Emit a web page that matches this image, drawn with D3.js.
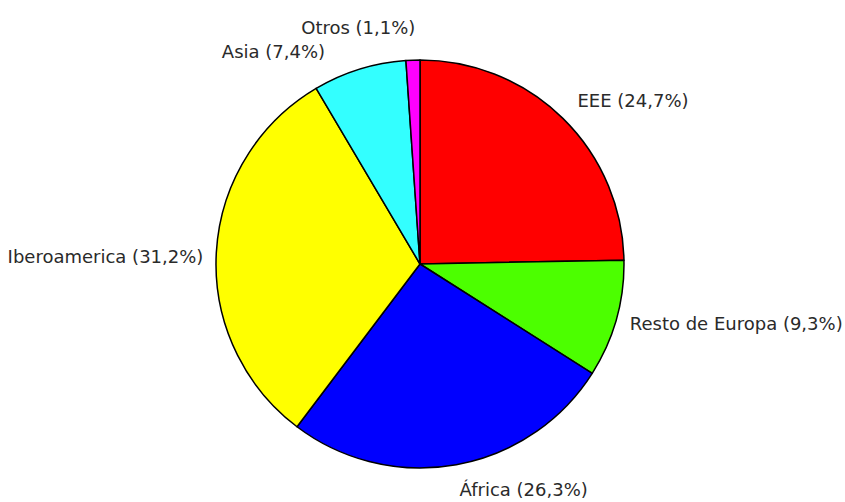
<!DOCTYPE html>
<html>
<head>
<meta charset="utf-8">
<script src="https://cdn.jsdelivr.net/npm/d3@7"></script>
<style>
  body { margin: 0; background: #fff; }
  text { font-family: "DejaVu Sans", Verdana, sans-serif; font-size: 18px; fill: #2a2a2a; }
</style>
</head>
<body>
<div id="chart"></div>
<script>
// regions and their share (%), clockwise from 12 o'clock
const categories = ["EEE", "Resto de Europa", "África", "Iberoamerica", "Asia", "Otros"];
const shares = [24.7, 9.3, 26.3, 31.2, 7.4, 1.1];
const shareLabels = ["24,7%", "9,3%", "26,3%", "31,2%", "7,4%", "1,1%"];
const colours = ["#ff0000", "#4cff00", "#0000ff", "#ffff00", "#33ffff", "#ff00ff"];

const width = 845, height = 502;
const cx = 420, cy = 264, radius = 204, labelRadius = 222;

// small hand nudges so labels sit where the original chart put them
const labelNudge = {
    "EEE": [2, -5],
    "Resto de Europa": [-4, 0],
    "África": [0, 7],
    "Iberoamerica": [5, 5],
    "Asia": [-29, 0],
    "Otros": [3, -14]
};

const data = categories.map((c, i) => ({ name: c, value: shares[i], label: shareLabels[i], colour: colours[i] }));

const svg = d3.select("#chart")
    .append("svg")
    .attr("width", width)
    .attr("height", height);

const g = svg.append("g")
    .attr("transform", "translate(" + cx + "," + cy + ")");

const pie = d3.pie()
    .sort(null)
    .value(d => d.value);

const arc = d3.arc()
    .innerRadius(0)
    .outerRadius(radius);

const arcs = pie(data);

g.selectAll(".slice")
    .data(arcs)
    .enter()
    .append("path")
    .attr("class", "slice")
    .attr("d", arc)
    .attr("fill", d => d.data.colour)
    .attr("stroke", "#000")
    .attr("stroke-width", 1.5)
    .attr("stroke-linejoin", "round");

const midAngle = d => (d.startAngle + d.endAngle) / 2;

g.selectAll(".label")
    .data(arcs)
    .enter()
    .append("text")
    .attr("class", "label")
    .attr("x", d => labelRadius * Math.sin(midAngle(d)) + labelNudge[d.data.name][0])
    .attr("y", d => -labelRadius * Math.cos(midAngle(d)) + labelNudge[d.data.name][1])
    .attr("dy", "0.35em")
    .attr("text-anchor", d => Math.sin(midAngle(d)) >= 0 ? "start" : "end")
    .text(d => d.data.name + " (" + d.data.label + ")");
</script>
</body>
</html>
